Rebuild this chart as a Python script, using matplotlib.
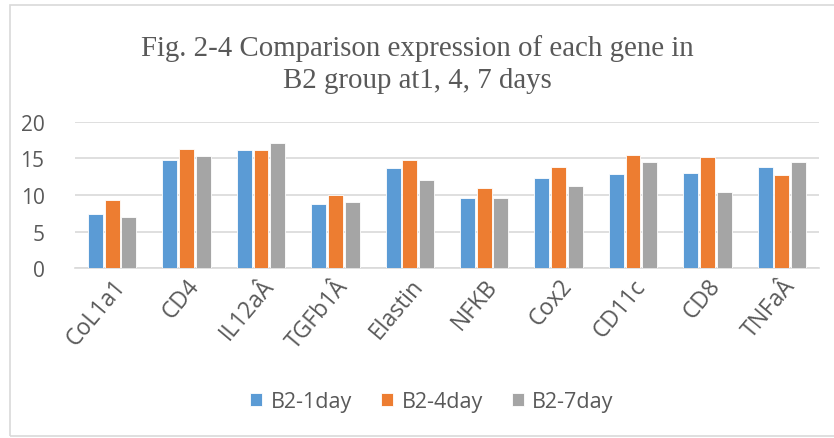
import matplotlib
matplotlib.use("Agg")
import matplotlib.pyplot as plt
import numpy as np
from matplotlib.patches import Rectangle

categories = ["CoL1a1", "CD4", "IL12aÂ", "TGFb1Â", "Elastin", "NFKB", "Cox2", "CD11c", "CD8", "TNFaÂ"]
series_names = ["B2-1day", "B2-4day", "B2-7day"]
day1 = [7.36, 14.8, 16.18, 8.77, 13.64, 9.55, 12.32, 12.82, 12.95, 13.82]
day4 = [9.36, 16.27, 16.09, 10.05, 14.77, 10.95, 13.82, 15.45, 15.18, 12.73]
day7 = [7.0, 15.3, 17.14, 9.05, 12.05, 9.64, 11.27, 14.45, 10.41, 14.55]
colors = ["#5B9BD5", "#ED7D31", "#A5A5A5"]
title = "Fig. 2-4 Comparison expression of each gene in\nB2 group at1, 4, 7 days"

W, H = 834, 439
fig = plt.figure(figsize=(W / 100, H / 100), dpi=100)
fig.patch.set_facecolor("white")

# chart border
fig.add_artist(Rectangle((10 / W, 1 - 437 / H), (W + 20) / W, (437 - 6) / H,
                         transform=fig.transFigure, fill=False,
                         edgecolor="#D9D9D9", linewidth=1.2))

left, right = 75 / W, 819 / W
bottom, top = 1 - 269.3 / H, 1 - 122.7 / H
ax = fig.add_axes([left, bottom, right - left, top - bottom])

x = np.arange(len(categories))
step = 0.224
width = 0.2
for i, (vals, name) in enumerate(zip([day1, day4, day7], series_names)):
    ax.bar(x + (i - 1) * step, vals, width=width, color=colors[i], label=name,
           edgecolor="white", linewidth=0.6, zorder=3)

ax.set_xlim(-0.5, len(categories) - 0.5)
ax.set_ylim(0, 20)
ax.set_yticks([0, 5, 10, 15, 20])
ax.grid(axis="y", color="#D9D9D9", linewidth=1.2, zorder=0)
for s in ["top", "right", "left"]:
    ax.spines[s].set_visible(False)
ax.spines["bottom"].set_color("#D9D9D9")
ax.spines["bottom"].set_linewidth(1.2)
ax.tick_params(axis="both", length=0, colors="#595959")
ax.tick_params(axis="y", labelsize=15, pad=22)
ax.tick_params(axis="x", pad=4)
ax.set_xticks(x)
ax.set_xticklabels(categories, rotation=50, ha="right", rotation_mode="anchor",
                   fontsize=16.5, color="#595959", family="Open Sans")
for t in ax.get_yticklabels():
    t.set_family("Open Sans")

fig.text(0.5, 1 - 65 / H, title, ha="center", va="center", fontsize=20.8,
         family="Liberation Serif", color="#595959", linespacing=1.3)

leg = fig.legend(loc="center", bbox_to_anchor=(432 / W, 1 - 403 / H), ncol=3,
                 frameon=False, prop={"family": "Open Sans", "size": 15.5},
                 handlelength=0.55, handleheight=0.55, handletextpad=0.4,
                 columnspacing=1.35)
for t in leg.get_texts():
    t.set_color("#595959")

fig.savefig("out.png", dpi=100)
